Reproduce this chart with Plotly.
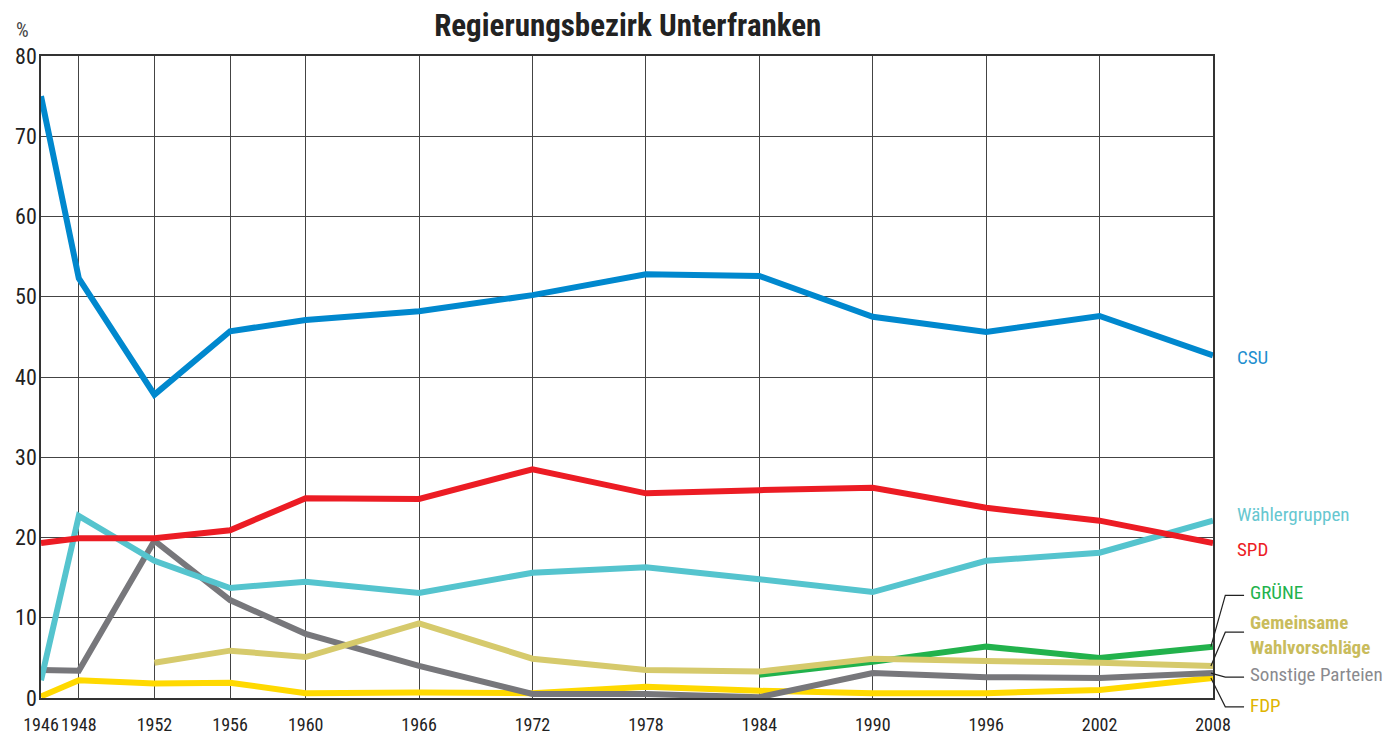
import plotly.graph_objects as go

years = [1946, 1948, 1952, 1956, 1960, 1966, 1972, 1978, 1984, 1990, 1996, 2002, 2008]
tick_labels = [str(y) for y in years]

csu = [75.0, 52.3, 37.8, 45.7, 47.1, 48.2, 50.2, 52.8, 52.6, 47.5, 45.6, 47.6, 42.7]
spd = [19.3, 19.9, 19.9, 20.9, 24.9, 24.8, 28.5, 25.5, 25.9, 26.2, 23.7, 22.1, 19.3]
waehlergruppen = [2.2, 22.7, 17.1, 13.7, 14.5, 13.1, 15.6, 16.3, 14.8, 13.2, 17.1, 18.1, 22.1]
sonstige = [3.5, 3.4, 19.6, 12.2, 8.0, 4.0, 0.5, 0.5, 0.1, 3.1, 2.6, 2.5, 3.1]
gemeinsame = [None, None, 4.4, 5.9, 5.1, 9.3, 4.9, 3.5, 3.3, 4.9, 4.6, 4.4, 4.0]
gruene = [None, None, None, None, None, None, None, None, 2.9, 4.5, 6.4, 5.0, 6.4]
fdp = [0.2, 2.2, 1.8, 1.9, 0.6, 0.7, 0.6, 1.4, 0.9, 0.6, 0.6, 1.0, 2.5]

Y_MAX = 80
FONT = "Roboto Condensed, Liberation Sans Narrow, Roboto, sans-serif"

series = [
    ("FDP", fdp, "#FFD900"),
    ("Sonstige Parteien", sonstige, "#77777B"),
    ("GRÜNE", gruene, "#22B24C"),
    ("Gemeinsame Wahlvorschläge", gemeinsame, "#D6CA6C"),
    ("Wählergruppen", waehlergruppen, "#55C4CE"),
    ("SPD", spd, "#EC1C24"),
    ("CSU", csu, "#0088CE"),
]

fig = go.Figure()
for name, vals, col in series:
    fig.add_trace(go.Scatter(x=years, y=vals, mode="lines", name=name,
                             line=dict(color=col, width=6), connectgaps=False,
                             hoverinfo="x+y+name"))

# Right-side labels (y given as fraction of the plot height)
labels = [
    ("CSU", 42.4, "#1E8FCF", 1.0185, False),
    ("Wählergruppen", 22.9, "#66C7D0", 1.0185, False),
    ("SPD", 18.5, "#EC1C24", 1.0185, False),
    ("GRÜNE", 13.2, "#22B24C", 1.0295, False),
    ("Gemeinsame<br>Wahlvorschläge", 7.9, "#C9BC5C", 1.0295, True),
    ("Sonstige Parteien", 2.9, "#8A8A8E", 1.0295, False),
    ("FDP", -0.9, "#E0B400", 1.0295, False),
]
for txt, yv, col, xp, bold in labels:
    fig.add_annotation(x=xp, y=yv / Y_MAX, xref="paper", yref="paper",
                       text=(f"<b>{txt}</b>" if bold else txt),
                       showarrow=False, xanchor="left", yanchor="middle", align="left",
                       font=dict(family=FONT, size=19, color=col))

# Connector lines (leader lines) for the crowded labels
leaders = [
    (gruene[-1], 12.8),
    (gemeinsame[-1], 8.2),
    (sonstige[-1], 2.6),
    (fdp[-1], -1.1),
]
for yv0, yv1 in leaders:
    fig.add_shape(type="path", xref="paper", yref="paper",
                  path=f"M 0.9982 {yv0 / Y_MAX} L 1.0105 {yv1 / Y_MAX} L 1.0265 {yv1 / Y_MAX}",
                  line=dict(color="#222222", width=1.2))

fig.add_annotation(x=-0.0162, y=1.04, xref="paper", yref="paper", text="%", showarrow=False,
                   xanchor="center", yanchor="middle", font=dict(family=FONT, size=20, color="#444444"))

# page body has an 8px margin -> compensate so plot area lands at x 41..1213, y 56..698
fig.update_layout(
    width=1399, height=739,
    margin=dict(l=33, r=194, t=48, b=49, autoexpand=False),
    paper_bgcolor="white", plot_bgcolor="white",
    showlegend=False,
    title=dict(text="<b>Regierungsbezirk Unterfranken</b>", x=0.443, xanchor="center",
               y=0.977, yanchor="middle", automargin=False,
               font=dict(family=FONT, size=31, color="#222222")),
    font=dict(family=FONT, size=20, color="#222222"),
)
fig.update_xaxes(range=[1946, 2008], tickvals=years, ticktext=tick_labels, tickangle=0,
                 automargin=False, ticklabelstandoff=10,
                 showgrid=True, gridcolor="#444444", gridwidth=1.3,
                 showline=True, linecolor="#333333", linewidth=1.5, mirror=True,
                 ticks="", tickfont=dict(family=FONT, size=18, color="#222222"), zeroline=False)
fig.update_yaxes(range=[0, Y_MAX], tickvals=[0, 10, 20, 30, 40, 50, 60, 70, 80],
                 automargin=False, ticklabelstandoff=-2,
                 showgrid=True, gridcolor="#444444", gridwidth=1.3,
                 showline=True, linecolor="#333333", linewidth=1.5, mirror=True,
                 ticks="", tickfont=dict(family=FONT, size=22, color="#222222"), zeroline=False)

fig.write_html("out.html")
